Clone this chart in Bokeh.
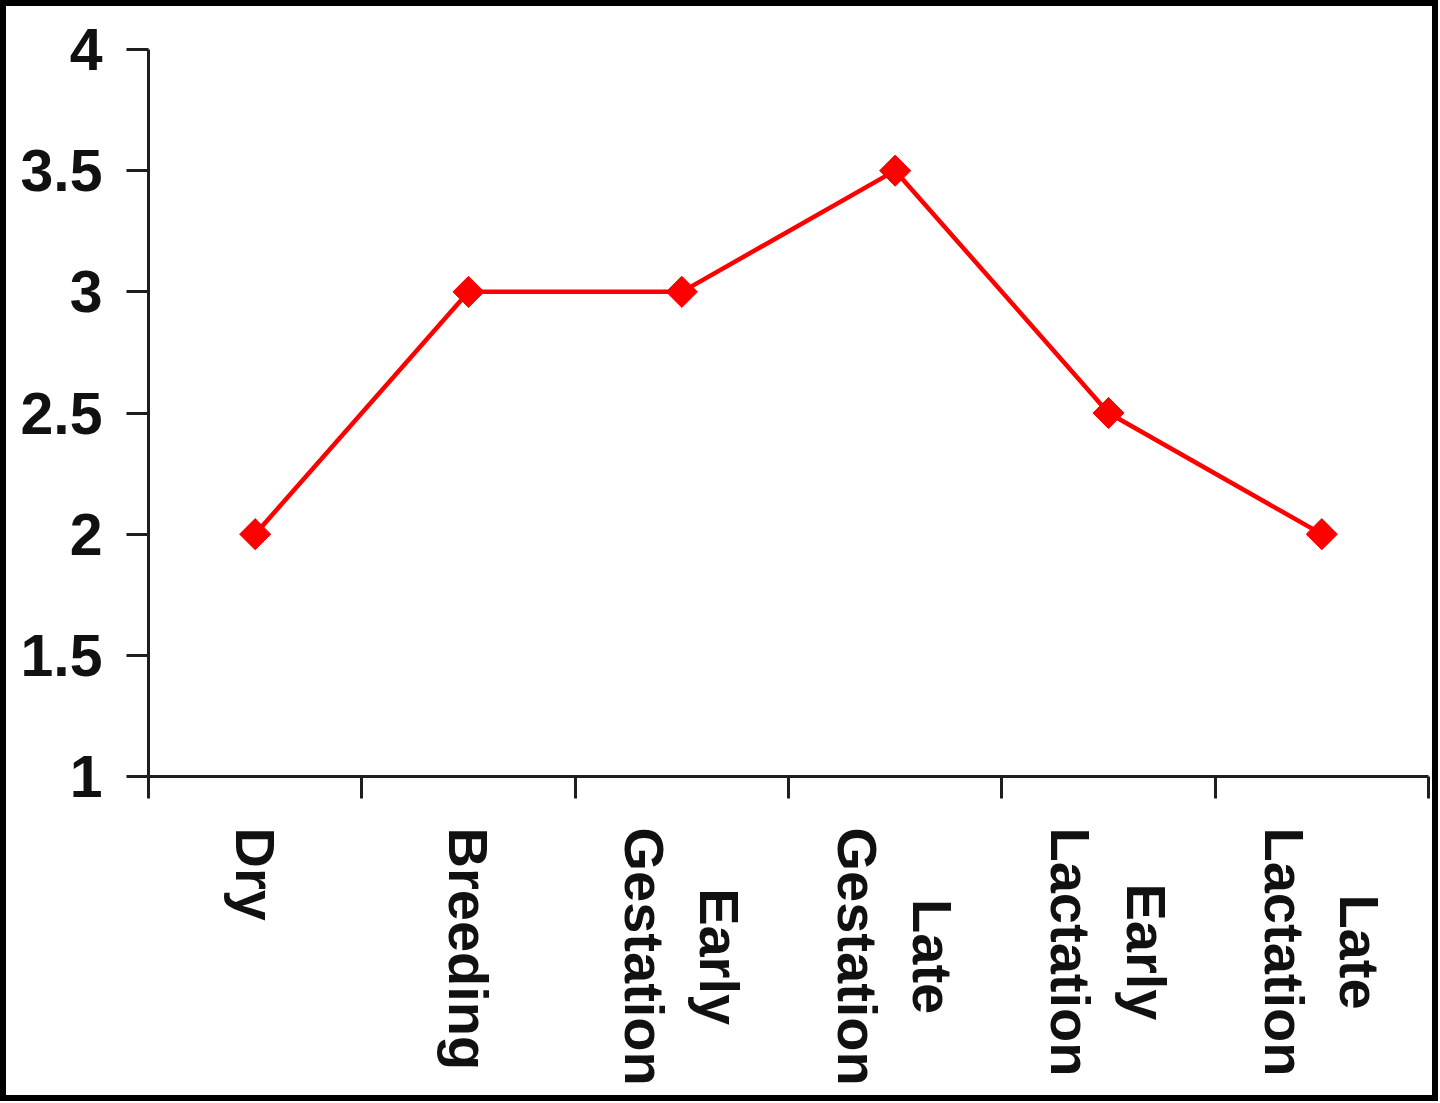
import numpy as np
from bokeh.plotting import figure
from bokeh.layouts import column
from bokeh.models import Range1d, FixedTicker, NumeralTickFormatter, ColumnDataSource
from bokeh.core.properties import value
from bokeh.embed import file_html
from bokeh.resources import INLINE

categories = ["Dry", "Breeding", "Early\nGestation", "Late\nGestation",
              "Early\nLactation", "Late\nLactation"]
values = [2, 3, 3, 3.5, 2.5, 2]
y_ticks = [1, 1.5, 2, 2.5, 3, 3.5, 4]

x_centers = [i + 0.5 for i in range(len(categories))]
x_bounds = list(range(len(categories) + 1))
src = ColumnDataSource(dict(x=x_centers, y=values))
lab_src = ColumnDataSource(dict(x=x_centers, y=[1] * len(categories), cat=categories))

B = 6          # outer frame thickness
W = 1426       # inner width
H = 1089       # inner height
TOP_H = 818    # height of the plotting part
font = "Liberation Sans"
axis_color = "#1e1e1e"
text_color = "#111111"

p = figure(width=W, height=TOP_H, output_backend="svg", toolbar_location=None,
           x_range=Range1d(0, len(categories)), y_range=Range1d(y_ticks[0], y_ticks[-1]),
           min_border_left=148 - B, min_border_right=4, min_border_top=49 - B,
           min_border_bottom=TOP_H - (776 - B))
p.xgrid.visible = False
p.ygrid.visible = False
p.outline_line_color = None
p.background_fill_color = "white"
p.border_fill_color = "white"

p.line("x", "y", source=src, line_color="#FF0000", line_width=4.5)
p.scatter("x", "y", source=src, marker="square", angle=np.pi / 4, size=22,
          fill_color="#FF0000", line_color="#FF0000")

# y axis
ya = p.yaxis[0]
ya.ticker = FixedTicker(ticks=y_ticks, minor_ticks=[])
ya.formatter = NumeralTickFormatter(format="0.[0]")
ya.axis_line_color = axis_color
ya.axis_line_width = 3
ya.major_tick_line_color = axis_color
ya.major_tick_line_width = 3
ya.major_tick_out = 22
ya.major_tick_in = 0
ya.minor_tick_line_color = None
ya.major_label_standoff = 24
ya.major_label_text_font = font
ya.major_label_text_font_style = "bold"
ya.major_label_text_font_size = "59px"
ya.major_label_text_color = text_color

# x axis: boundary tick marks only; category names are drawn below
xa = p.xaxis[0]
xa.ticker = FixedTicker(ticks=[], minor_ticks=x_bounds)
xa.axis_line_color = axis_color
xa.axis_line_width = 3
xa.major_tick_line_color = None
xa.minor_tick_line_color = axis_color
xa.minor_tick_line_width = 3
xa.minor_tick_out = 22
xa.minor_tick_in = 0
xa.major_label_text_font_size = "0px"

# category labels, rotated, lines centred on each other
p2 = figure(width=W, height=H - TOP_H, output_backend="svg", toolbar_location=None,
            x_range=p.x_range, y_range=Range1d(0, 1),
            x_axis_type=None, y_axis_type=None,
            min_border_left=148 - B, min_border_right=4,
            min_border_top=max(827 - B - TOP_H, 0), min_border_bottom=0)
p2.grid.visible = False
p2.outline_line_color = None
p2.background_fill_color = "white"
p2.border_fill_color = "white"
p2.text(x="x", y="y", text="cat", source=lab_src, angle=-np.pi / 2,
        anchor="center_left", text_align="center",
        text_font=value(font), text_font_style="bold", text_font_size="56px",
        text_color=text_color, text_line_height=1.2)

layout = column(p, p2, spacing=0, styles={"border": f"{B}px solid black"})

open("out.html", "w").write(file_html(layout, INLINE))
